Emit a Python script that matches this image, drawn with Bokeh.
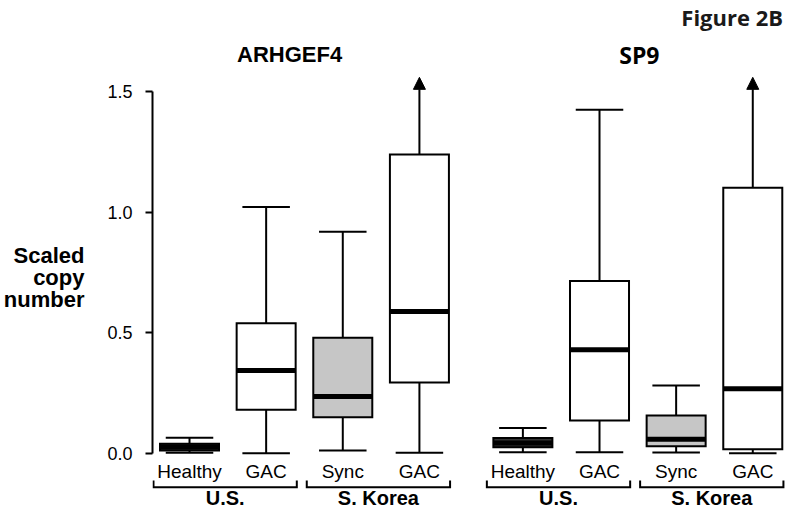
from bokeh.plotting import figure
from bokeh.models import ColumnDataSource, Arrow, NormalHead, FixedTicker, PrintfTickFormatter, Range1d
from bokeh.core.properties import value
from bokeh.embed import file_html
from bokeh.resources import INLINE

# ---------------- data ----------------
GENES = ["ARHGEF4", "SP9"]
CATEGORIES = ["Healthy", "GAC", "Sync", "GAC"]
COHORTS = ["U.S.", "U.S.", "S. Korea", "S. Korea"]
KIND = ["healthy", "gac", "sync", "gac"]

Y_TICKS = [0.0, 0.5, 1.0, 1.5]

# five-number summaries (scaled copy number)
ARHGEF4_LO = [0.002, 0.000, 0.011, 0.002]
ARHGEF4_Q1 = [0.011, 0.180, 0.149, 0.293]
ARHGEF4_MED = [0.026, 0.343, 0.235, 0.588]
ARHGEF4_Q3 = [0.039, 0.539, 0.479, 1.239]
ARHGEF4_HI = [0.064, 1.021, 0.918, 1.559]   # last one is off-scale (arrow)

SP9_LO = [0.004, 0.004, 0.003, 0.000]
SP9_Q1 = [0.025, 0.136, 0.029, 0.016]
SP9_MED = [0.042, 0.429, 0.058, 0.267]
SP9_Q3 = [0.063, 0.714, 0.156, 1.101]
SP9_HI = [0.104, 1.425, 0.281, 1.559]       # last one is off-scale (arrow)

OFF_SCALE = [False, False, False, True]

SUMMARY = {
    "ARHGEF4": (ARHGEF4_LO, ARHGEF4_Q1, ARHGEF4_MED, ARHGEF4_Q3, ARHGEF4_HI),
    "SP9": (SP9_LO, SP9_Q1, SP9_MED, SP9_Q3, SP9_HI),
}

# ---------------- layout / style constants ----------------
PANEL_GAP = 4.35
BOX_W = 0.77
CAP_W = 0.62
FILL = {"healthy": "#333333", "gac": "#ffffff", "sync": "#c6c6c6"}
ARIAL = "Liberation Sans"
CALIBRI = "Open Sans"

rows = dict(x=[], left=[], right=[], cl=[], cr=[], lo=[], q1=[], med=[], q3=[], hi=[], fill=[], off=[], cat=[])
for g, gene in enumerate(GENES):
    lo, q1, med, q3, hi = SUMMARY[gene]
    for i in range(len(CATEGORIES)):
        x = g * PANEL_GAP + i
        rows["x"].append(x)
        rows["left"].append(x - BOX_W / 2)
        rows["right"].append(x + BOX_W / 2)
        rows["cl"].append(x - CAP_W / 2)
        rows["cr"].append(x + CAP_W / 2)
        rows["lo"].append(lo[i])
        rows["q1"].append(q1[i])
        rows["med"].append(med[i])
        rows["q3"].append(q3[i])
        rows["hi"].append(hi[i])
        rows["fill"].append(FILL[KIND[i]])
        rows["off"].append(OFF_SCALE[i])
        rows["cat"].append(CATEGORIES[i])

src = ColumnDataSource(rows)
on_idx = [k for k, o in enumerate(rows["off"]) if not o]
off_idx = [k for k, o in enumerate(rows["off"]) if o]
src_on = ColumnDataSource({k: [v[j] for j in on_idx] for k, v in rows.items()})
src_off = ColumnDataSource({k: [v[j] for j in off_idx] for k, v in rows.items()})

p = figure(width=785, height=510, output_backend="svg", toolbar_location=None,
           x_range=Range1d(-0.483, 7.777), y_range=Range1d(-0.2377, 1.8777),
           x_axis_location=None, min_border_left=149, min_border_right=0,
           min_border_top=0, min_border_bottom=0)
p.outline_line_color = None
p.grid.visible = False
p.background_fill_color = "white"
p.border_fill_color = "white"

ax = p.yaxis[0]
ax.ticker = FixedTicker(ticks=Y_TICKS)
ax.formatter = PrintfTickFormatter(format="%.1f")
ax.bounds = (0, 1.5)
ax.minor_tick_line_color = None
ax.major_tick_in = 0
ax.major_tick_out = 7
ax.major_tick_line_width = 2
ax.axis_line_width = 2
ax.major_label_standoff = 13
ax.major_label_text_font = ARIAL
ax.major_label_text_font_size = "18px"
ax.major_label_text_color = "black"
# two leading empty lines push the centred three-line label down to its place
ax.axis_label = "\n\nScaled\ncopy\nnumber"
ax.axis_label_text_font = ARIAL
ax.axis_label_text_font_style = "bold"
ax.axis_label_text_font_size = "22px"
ax.axis_label_text_color = "black"
ax.axis_label_text_line_height = 0.88
ax.axis_label_text_align = "center"
ax.axis_label_standoff = 20
ax.axis_label_orientation = "horizontal"

# whiskers
p.segment(x0="x", y0="lo", x1="x", y1="q1", source=src, line_width=2, line_color="black")
p.segment(x0="x", y0="q3", x1="x", y1="hi", source=src_on, line_width=2, line_color="black")
# caps
p.segment(x0="cl", y0="lo", x1="cr", y1="lo", source=src, line_width=2, line_color="black")
p.segment(x0="cl", y0="hi", x1="cr", y1="hi", source=src_on, line_width=2, line_color="black")
# boxes
p.quad(left="left", right="right", bottom="q1", top="q3", source=src,
       fill_color="fill", line_color="black", line_width=2, line_join="miter")
# medians
p.segment(x0="left", y0="med", x1="right", y1="med", source=src, line_width=5, line_color="black")
# off-scale arrows
p.add_layout(Arrow(source=src_off, x_start="x", y_start="q3", x_end="x", y_end="hi",
                   line_width=2, line_color="black",
                   end=NormalHead(size=12, fill_color="black", line_color="black", line_width=1)))

# category labels
p.text(x="x", y=-0.0767, text="cat", source=src, text_align="center", text_baseline="middle",
       text_font=value(ARIAL), text_font_size="19px", text_color="black")

# cohort brackets and labels
bx, by, lx, lt = [], [], [], []
for g, gene in enumerate(GENES):
    for c in ["U.S.", "S. Korea"]:
        idx = [i for i, cc in enumerate(COHORTS) if cc == c]
        left = g * PANEL_GAP + idx[0] - 0.47
        right = g * PANEL_GAP + idx[-1] + 0.40
        bx.append([left, left, right, right])
        by.append([-0.113, -0.141, -0.141, -0.113])
        lx.append((left + right) / 2)
        lt.append(c)
p.multi_line(xs=bx, ys=by, line_width=2, line_color="black", line_join="miter")
p.text(x=lx, y=[-0.1866] * len(lx), text=lt, text_align="center", text_baseline="middle",
       text_font=value(ARIAL), text_font_style="bold", text_font_size="20px", text_color="black")

# gene titles
p.text(x=[0 * PANEL_GAP + 1.306], y=[1.653], text=[GENES[0]], text_align="center",
       text_baseline="middle", text_font=value(ARIAL), text_font_style="bold",
       text_font_size="22px", text_color="black")
p.text(x=[1 * PANEL_GAP + 1.52], y=[1.653], text=[GENES[1]], text_align="center",
       text_baseline="middle", text_font=value(CALIBRI), text_font_style="bold",
       text_font_size="23px", text_color="black")

# "Figure 2B" tag
p.text(x=[7.745], y=[1.810], text=["Figure 2B"], text_align="right", text_baseline="middle",
       text_font=value(CALIBRI), text_font_style="bold", text_font_size="22px",
       text_color="#1a1a1a")

open("out.html", "w").write(file_html(p, INLINE))
